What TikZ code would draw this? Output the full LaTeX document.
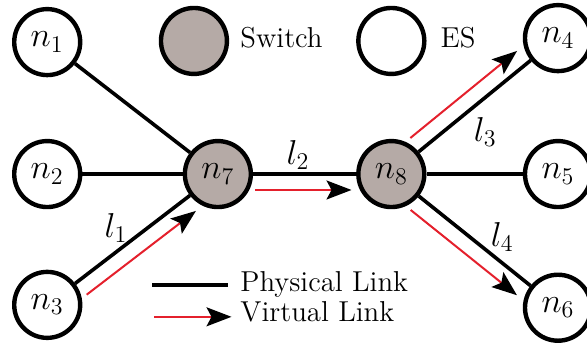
\documentclass[tikz,border=0pt]{standalone}
\usetikzlibrary{calc,arrows.meta}
\definecolor{swgray}{RGB}{181,170,166}
\definecolor{vred}{RGB}{228,32,44}
\begin{document}
\begin{tikzpicture}

\tikzstyle{es} = [circle, draw, line width=2.2pt, minimum size=1.16cm, inner sep=0pt, fill=white]
\tikzstyle{switch} = [es, fill=swgray]
\tikzstyle{plink} = [line width=1.8pt]
\tikzstyle{vlink} = [vred, line width=1pt, shorten <=0.66cm, shorten >=0.7cm, -{Stealth[color=black,length=12.5pt,width=9.5pt,inset=2.5pt]}]
\tikzstyle{key} = [anchor=base west, inner sep=0pt, font=\Large]

\def \fsize{\LARGE}

\useasboundingbox (-0.83,-2.96) rectangle (9.49,3.06);

%End stations on the left
\node[es](n1) at (0,2.32){\fsize $n_{1}$};
\node[es](n2) at (0,0){\fsize $n_{2}$};
\node[es](n3) at (0,-2.30){\fsize $n_{3}$};

%Switches
\node[switch](n7) at (3.0,0){\fsize $n_{7}$};
\node[switch](n8) at (6.05,0){\fsize $n_{8}$};

%End stations on the right
\node[es](n4) at (8.98,2.39){\fsize $n_{4}$};
\node[es](n5) at (8.98,0){\fsize $n_{5}$};
\node[es](n6) at (8.98,-2.35){\fsize $n_{6}$};

%Physical links
\draw[plink] (n1) -- (n7);
\draw[plink] (n2) -- (n7);
\draw[plink] (n3) -- (n7);
\draw[plink] (n7) -- (n8);
\draw[plink] (n8) -- (n4);
\draw[plink] (n8) -- (n5);
\draw[plink] (n8) -- (n6);

%Virtual links beside the physical ones
\draw[vlink] ($(n3)!0.28cm!-90:(n7)$) -- ($(n7)!0.28cm!90:(n3)$);
\draw[vlink] ($(n7)!0.28cm!-90:(n8)$) -- ($(n8)!0.28cm!90:(n7)$);
\draw[vlink] ($(n8)!0.28cm!90:(n4)$) -- ($(n4)!0.28cm!-90:(n8)$);
\draw[vlink] ($(n8)!0.28cm!-90:(n6)$) -- ($(n6)!0.28cm!90:(n8)$);

%Link names
\node(l1) at (1.21,-0.95){\fsize $l_{1}$};
\node(l2) at (4.41,0.33){\fsize $l_{2}$};
\node(l3) at (7.70,0.74){\fsize $l_{3}$};
\node(l4) at (8.0,-1.11){\fsize $l_{4}$};

%Legend of the nodes
\node[switch](swkey) at (2.58,2.34){};
\node[key](swtxt) at (3.39,2.22){Switch};
\node[es](eskey) at (6.05,2.34){};
\node[key](estxt) at (6.91,2.22){ES};

%Legend of the links
\coordinate (pla) at (1.85,-1.95);
\coordinate (plb) at (3.18,-1.95);
\draw[plink] (pla) -- (plb);
\node[key](pltxt) at (3.39,-2.07){Physical Link};
\coordinate (vla) at (1.88,-2.51);
\coordinate (vlb) at (3.24,-2.51);
\draw[vlink, shorten <=0pt, shorten >=0pt] (vla) -- (vlb);
\node[key](vltxt) at (3.39,-2.60){Virtual Link};

\end{tikzpicture}
\end{document}
